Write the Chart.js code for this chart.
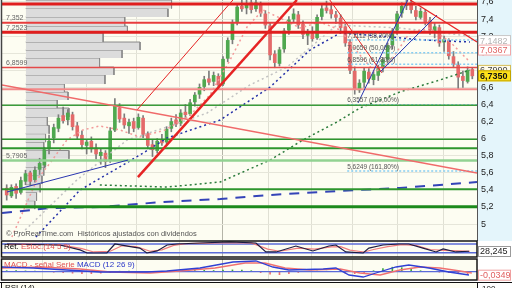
<!DOCTYPE html>
<html>
<head>
<meta charset="utf-8">
<script src="https://cdn.jsdelivr.net/npm/chart.js@4.4.0/dist/chart.umd.min.js"></script>
<style>
  html, body { margin: 0; padding: 0; background: #fff; }
  #wrap { position: relative; width: 512px; height: 288px; overflow: hidden; }
  .pane { position: absolute; left: 0; width: 512px; }
  #rsi { position: absolute; left: 0; top: 282px; width: 512px; height: 8px; border-top: 1.5px solid #111;
         font: 8px "Liberation Sans", Arial, sans-serif; color: #111; }
  #rsi .in { position: absolute; left: 1px; top: 0; width: 475px; height: 8px; background: #fdfdf2;
             border-left: 1.5px solid #111; border-right: 1.5px solid #111; }
  #rsi .lbl { position: absolute; left: 3px; top: 0px; }
  #rsi .r { position: absolute; left: 482px; top: 1px; }
</style>
</head>
<body>
<div id="wrap">
  <div class="pane" style="top:0;height:241px"><canvas id="main"></canvas></div>
  <div class="pane" style="top:240px;height:18px"><canvas id="stoch"></canvas></div>
  <div class="pane" style="top:258px;height:24px"><canvas id="macd"></canvas></div>
  <div id="rsi"><div class="in"><span class="lbl">RSI (14)</span></div><span class="r">100</span></div>
</div>
<script>
// sesiones (una vela por indice 0..99)
const opens = [5.42,5.33,5.44,5.37,5.50,5.60,5.52,5.64,5.69,5.88, 6.01,6.12,6.27,6.22,6.28,6.15,6.04,5.92,5.97,5.89,
  5.80,5.83,5.74,6.10,6.36,6.24,6.15,6.20,6.13,6.24, 6.06,5.93,5.86,5.98,5.96,6.12,6.22,6.18,6.31,6.29,
  6.43,6.52,6.61,6.70,6.67,6.73,6.64,6.94,7.16,7.37, 7.55,7.53,7.59,7.52,7.58,7.46,7.32,6.99,6.88,7.05,
  7.27,7.40,7.45,7.34,7.21,7.23,7.18,7.43,7.53,7.51, 7.45,7.41,7.31,7.13,6.79,6.57,6.66,6.78,6.69,6.74,
  6.83,6.93,7.10,7.27,7.47,7.56,7.59,7.50,7.42,7.48, 7.38,7.26,7.30,7.13,7.15,6.96,6.86,6.73,6.67,6.81];
const highs = [5.46,5.46,5.47,5.55,5.63,5.62,5.67,5.77,5.90,6.04, 6.17,6.28,6.37,6.34,6.31,6.19,6.09,5.99,6.02,5.94,
  5.88,5.86,6.13,6.47,6.41,6.29,6.23,6.24,6.29,6.27, 6.08,5.98,6.00,6.05,6.14,6.24,6.28,6.34,6.40,6.46,
  6.54,6.64,6.73,6.79,6.78,6.76,6.96,7.18,7.39,7.58, 7.63,7.62,7.63,7.63,7.60,7.50,7.36,7.03,7.07,7.29,
  7.43,7.52,7.49,7.38,7.28,7.31,7.45,7.57,7.61,7.56, 7.49,7.45,7.34,7.16,6.84,6.69,6.83,6.82,6.78,6.86,
  6.95,7.12,7.29,7.49,7.59,7.63,7.62,7.55,7.53,7.51, 7.42,7.36,7.33,7.20,7.17,7.02,6.90,6.79,6.84,6.83];
const lows = [5.28,5.31,5.30,5.35,5.46,5.45,5.49,5.58,5.66,5.82, 5.95,6.08,6.18,6.16,6.10,5.99,5.88,5.82,5.84,5.76,
  5.70,5.66,5.72,6.08,6.19,6.12,6.06,6.08,6.11,6.01, 5.88,5.79,5.83,5.92,5.94,6.08,6.14,6.15,6.24,6.27,
  6.38,6.47,6.56,6.63,6.62,6.58,6.62,6.90,7.11,7.33, 7.49,7.46,7.47,7.49,7.43,7.29,6.92,6.83,6.85,7.01,
  7.22,7.36,7.29,7.17,7.10,7.14,7.16,7.39,7.47,7.41, 7.35,7.26,7.08,6.76,6.52,6.54,6.60,6.65,6.63,6.68,
  6.78,6.88,7.05,7.22,7.42,7.51,7.47,7.39,7.40,7.33, 7.22,7.18,7.08,7.02,6.93,6.83,6.58,6.60,6.65,6.70];
const closes = [5.34,5.43,5.36,5.51,5.59,5.50,5.63,5.71,5.87,5.97, 6.13,6.24,6.21,6.30,6.14,6.03,5.93,5.96,5.88,5.82,
  5.84,5.73,6.09,6.38,6.23,6.16,6.19,6.12,6.25,6.05, 5.92,5.87,5.97,5.95,6.11,6.20,6.17,6.30,6.28,6.42,
  6.51,6.60,6.69,6.66,6.74,6.63,6.93,7.15,7.36,7.54, 7.52,7.58,7.51,7.59,7.47,7.33,6.98,6.89,7.04,7.26,
  7.39,7.46,7.33,7.22,7.24,7.17,7.42,7.52,7.50,7.46, 7.42,7.30,7.12,6.80,6.58,6.65,6.79,6.70,6.75,6.82,
  6.92,7.09,7.26,7.46,7.55,7.58,7.51,7.43,7.49,7.37, 7.27,7.31,7.12,7.16,6.97,6.87,6.72,6.68,6.80,6.735];

// ejes
const priceTicks = [5, 5.2, 5.4, 5.6, 5.8, 6, 6.2, 6.4, 6.6, 6.8, 7, 7.2, 7.4, 7.6];
const gridTicks = [7.7, 16.9, 27.7, 36.8, 45.8, 55.6, 64.9, 73.6, 83.0, 92.8];
const yearTick = 45.8;

// volumen por precio
const profileEdges = [7.623, 7.524, 7.424, 7.318, 7.237, 7.131, 7.037, 6.944, 6.838, 6.745, 6.639, 6.546, 6.452,
  6.358, 6.253, 6.155, 6.057, 5.959, 5.861, 5.763, 5.665, 5.567, 5.469, 5.371, 5.273, 5.175];
const profileVolume = [162, 158, 110, 113, 86, 127, 107, 82, 98, 88, 43, 47, 35, 48,
  24, 26, 22, 20, 48, 22, 20, 18, 16, 12, 10];

// soportes / resistencias
const supportLevels = [7.576, 7.357, 7.245, 6.833, 6.577, 6.390, 5.992, 5.888, 5.744, 5.406, 5.203];
const supportColors = ['#e01e1e', '#e83c3c', '#e01e1e', '#e44a4a', '#f28a8a', '#3c9c3c', '#2e962e', '#2e962e', '#92d292', '#2e962e', '#1c8a1c'];
const supportWidths = [3, 2, 3, 1.5, 2, 1.5, 1.5, 2, 2.5, 2, 3];
const levelLabels = ['7,352', '7,2523', '6,8599', '5,7905'];
const levelLabelValues = [7.357, 7.245, 6.833, 5.744];

// Fibonacci
const fibLevels = [7.155, 7.006, 6.870, 6.398, 5.621];
const fibLabels = ['7,1111 (38,20%)', '7,0659 (50,00%)', '6,8596 (61,80%)', '6,3557 (100,00%)', '5,6249 (161,80%)'];
const fibStart = 72.4;

// lineas de tendencia [x0, y0, x1, y1]
const redTrends = [[-1, 6.628, 100, 5.597], [27.9, 5.55, 61.7, 7.623], [27.7, 6.335, 48.1, 7.623],
  [68.7, 7.623, 79.8, 6.769], [85.8, 7.623, 100, 7.131]];
const redTrendWidths = [1.5, 2.5, 1, 1, 1.2];
const blueTrends = [[0.06, 5.375, 25.8, 5.749], [74.7, 6.417, 85.3, 7.623], [79.4, 6.78, 91.5, 7.447]];

// medias moviles [indice, valor]
const maPink = [[1.1,4.848],[6.4,5.515],[9.2,5.714],[12.8,5.984],[16.2,6.101],[19.8,6.148],[24.1,6.101],[28.3,6.019],
  [33.7,6.101],[39.0,6.276],[43.2,6.511],[47.5,6.920],[51.1,7.307],[54.5,7.506],[58.1,7.412],[62.4,7.295],
  [66.6,7.365],[70.9,7.272],[75.1,6.979],[78.3,6.780],[81.5,6.897],[85.8,7.248],[90.0,7.295],[94.3,7.131],[98.5,6.897]];
const maGray = [[2.4,4.848],[14.9,5.515],[25.6,5.984],[34.1,6.136],[42.6,6.300],[51.7,6.628],[59.6,6.838],
  [70.2,7.330],[83.6,7.295],[98.5,7.201]];
const maBlue = [[6.2,4.848],[15.6,5.398],[25.8,5.726],[29.0,5.831],[34.1,6.007],[45.4,6.218],[56.0,6.604],
  [64.5,7.037],[70.9,7.237],[79.4,7.201],[88.5,7.155],[98.5,7.131]];
const maGreen = [[19.8,5.457],[34.1,5.433],[45.4,5.492],[56.0,5.749],[63.0,5.984],[70.2,6.194],[75.1,6.358],
  [83.6,6.546],[92.1,6.686],[98.5,6.803]];
const maLong = [[-1,5.129],[9.2,5.187],[19.8,5.199],[33.2,5.258],[45.4,5.293],[56.0,5.340],[70.2,5.386],
  [83.6,5.422],[100,5.492]];

// etiquetas del eje de precios
const priceBoxes = ['7,1482', '7,0367', '6,7990', '6,7350'];
const priceBoxValues = [7.1482, 7.0367, 6.799, 6.735];

// estocastico
const stochLevels = [80, 20];
const stochK = [[0.06,80],[11.3,73],[15.6,39],[17.1,18],[21.3,18],[23,80],[26.9,59],[28.3,52],[29.8,18],[32,32],
  [34.1,73],[36.2,80],[41.1,87],[47.5,94],[53,87],[55.1,25],[57.3,25],[61.5,66],[65.1,32],[68.5,66],[70,73],
  [72.1,25],[75.8,18],[77,52],[80,73],[83.4,80],[85.5,80],[88.5,52],[91.3,25],[92.8,46],[95.5,25],[98.3,30]];
const stochD = [[0,76],[5,80],[12,70],[16,48],[18.5,25],[22,30],[24.5,68],[27.5,62],[30.5,30],[33,40],[35.5,70],
  [38,82],[45,88],[52,88],[55.5,45],[58,30],[62,52],[65.5,45],[69,60],[71,62],[73,38],[76,25],[78,42],[81,62],
  [84,76],[87,70],[90,42],[93,36],[96,32],[98.5,30]];

// MACD
const macdLine = [[-1,0.047],[5.6,0.037],[12.8,0.017],[19.8,-0.003],[29.8,-0.003],[34.1,0.007],[41.1,0.037],
  [48.1,0.097],[53,0.107],[56.6,0.047],[60,0.017],[67.3,0.027],[70,0.037],[72.8,-0.033],[75.8,-0.053],
  [78.5,-0.013],[82.8,0.047],[85.5,0.067],[89.8,0.037],[94,-0.003],[98.3,-0.033]];
const signalLine = [[-1,0.037],[7.1,0.047],[15.6,0.027],[22,-0.003],[30.5,-0.013],[36.8,0.007],[44.3,0.037],
  [50.7,0.087],[54.9,0.087],[59.2,0.037],[64.5,0.017],[70.9,0.027],[75.1,-0.013],[79.4,-0.033],[83.6,0.017],
  [87.9,0.047],[92.1,0.037],[96.4,0.007],[98.9,-0.013]];
const macdHist = [[0,0.010],[2,0.010],[4,0.008],[6,0.005],[8,0.0],[10,-0.005],[12,-0.010],[14,-0.015],[16,-0.020],
  [18,-0.020],[20,-0.015],[22,-0.010],[24,0.005],[26,0.005],[28,0.004],[30,0.003],[32,0.004],[34,0.006],[36,0.008],
  [38,0.010],[40,0.012],[42,0.014],[44,0.012],[46,0.015],[48,0.018],[50,0.015],[52,0.010],[54,-0.010],[56,-0.025],
  [58,-0.030],[60,-0.020],[62,-0.008],[64,0.004],[66,0.006],[68,0.005],[70,0.002],[72,-0.015],[74,-0.020],
  [76,-0.015],[78,0.010],[80,0.030],[82,0.045],[84,0.040],[86,0.025],[88,0.010],[90,0.003],[92,-0.005],
  [94,-0.010],[96,-0.015],[98,-0.020]];

Chart.defaults.font.family = '"Liberation Sans", Arial, sans-serif';
Chart.defaults.animation = false;

const plotBg = '#fdfdf2';
const fmt = v => (Number.isInteger(v) ? String(v) : v.toFixed(1)).replace('.', ',');

function lineDs(points, color, width, dash, order) {
  return {
    type: 'line', data: points.map(p => ({ x: p[0], y: p[1] })),
    borderColor: color, borderWidth: width, borderDash: dash || [],
    pointRadius: 0, fill: false, tension: 0, order: order || 0
  };
}

function timeAxis() {
  return {
    type: 'linear', min: -1, max: 100, offset: false,
    afterBuildTicks: s => { s.ticks = gridTicks.map(v => ({ value: v })); },
    ticks: { display: false },
    grid: { offset: false, drawTicks: false, lineWidth: 1,
      color: c => (c.tick && c.tick.value === yearTick ? '#b4b4a8' : '#e0e0d4') },
    border: { display: false }
  };
}

// ---------- grafico principal ----------
const candleIdx = closes.map((c, i) => i);
const mainSets = [];

trendSets();
function trendSets() {
  redTrends.forEach((t, k) => mainSets.push(lineDs([[t[0], t[1]], [t[2], t[3]]], k === 0 ? '#f06a6a' : '#e62424', redTrendWidths[k], [], 1)));
  blueTrends.forEach(t => mainSets.push(lineDs([[t[0], t[1]], [t[2], t[3]]], '#2a36b0', 1, [], 1)));
}
supportLevels.forEach((v, k) => mainSets.push(lineDs([[-1, v], [100, v]], supportColors[k], supportWidths[k], [], 2)));
fibLevels.forEach(v => mainSets.push(lineDs([[fibStart, v], [100, v]], '#86cdf2', 1.5, [2, 2], 3)));
mainSets.push(lineDs(maBlue, '#2430a8', 1.5, [2, 3], 4));
mainSets.push(lineDs(maPink, '#f29a9a', 1.5, [2, 3], 4));
mainSets.push(lineDs(maGray, '#c2c2c2', 1.5, [2, 3], 4));
mainSets.push(lineDs(maGreen, '#2c7c3c', 1.5, [2, 3], 4));
mainSets.push(lineDs(maLong, '#3444b8', 2, [10, 8], 4));

mainSets.push({
  type: 'bar', order: 5, grouped: false, barThickness: 3,
  data: candleIdx.map(i => ({ x: i, y: [opens[i], closes[i]] })),
  backgroundColor: candleIdx.map(i => (closes[i] >= opens[i] ? '#4fa84f' : '#e46a6a'))
});
mainSets.push({
  type: 'bar', order: 6, grouped: false, barThickness: 1,
  data: candleIdx.map(i => ({ x: i, y: [lows[i], highs[i]] })),
  backgroundColor: '#7c7c7c'
});

profileVolume.forEach((vol, k) => {
  mainSets.push({
    type: 'line', xAxisID: 'xv', order: 20,
    data: [{ x: 0, y: profileEdges[k] }, { x: vol, y: profileEdges[k] }, { x: vol, y: profileEdges[k + 1] }],
    borderColor: '#8a8a8a', borderWidth: 1, backgroundColor: '#dcdcdc',
    fill: { value: profileEdges[k + 1] }, pointRadius: 0, tension: 0
  });
});

const mainDeco = {
  id: 'mainDeco',
  beforeDraw(chart) {
    const { ctx, chartArea: a, width, height } = chart;
    ctx.save();
    ctx.fillStyle = '#e4f5fb';
    ctx.fillRect(a.right, 0, width - a.right, height);
    ctx.fillStyle = plotBg;
    ctx.fillRect(a.left, a.top, a.right - a.left, a.bottom - a.top);
    ctx.restore();
  },
  afterDraw(chart) {
    const { ctx, chartArea: a, width, scales } = chart;
    const x = scales.x, y = scales.y;
    ctx.save();
    ctx.strokeStyle = '#444';
    ctx.lineWidth = 1.5;
    ctx.beginPath();
    ctx.moveTo(a.left - 0.5, a.top); ctx.lineTo(a.left - 0.5, a.bottom);
    ctx.stroke();

    ctx.font = '7px "Liberation Sans", Arial, sans-serif';
    ctx.textBaseline = 'bottom';
    ctx.fillStyle = '#666';
    levelLabels.forEach((t, k) => ctx.fillText(t, a.left + 4, y.getPixelForValue(levelLabelValues[k]) - 1));

    ctx.font = '6.5px "Liberation Sans", Arial, sans-serif';
    ctx.fillStyle = '#555';
    fibLabels.forEach((t, k) => ctx.fillText(t, x.getPixelForValue(fibStart), y.getPixelForValue(fibLevels[k]) - 1));

    const boxStyle = [
      { bg: '#ffffff', border: '#c8c8c8', text: '#b4b4b4', bold: false },
      { bg: '#ffffff', border: '#f0a8a8', text: '#e06666', bold: false },
      { bg: '#fffbea', border: '#d4bc58', text: '#444', bold: false },
      { bg: '#ffe21a', border: '#c4a400', text: '#111', bold: true }
    ];
    ctx.textBaseline = 'middle';
    priceBoxes.forEach((t, k) => {
      const s = boxStyle[k];
      const py = y.getPixelForValue(priceBoxValues[k]);
      ctx.fillStyle = s.bg;
      ctx.fillRect(a.right + 1, py - 5.5, width - a.right - 2, 11);
      ctx.strokeStyle = s.border;
      ctx.lineWidth = 1;
      ctx.strokeRect(a.right + 1.5, py - 5, width - a.right - 3, 10);
      ctx.fillStyle = s.text;
      ctx.font = (s.bold ? 'bold ' : '') + '9px "Liberation Sans", Arial, sans-serif';
      ctx.fillText(t, a.right + 3, py + 0.5);
    });

    ctx.font = '7.5px "Liberation Sans", Arial, sans-serif';
    ctx.fillStyle = '#555';
    ctx.fillText('\u00a9 ProRealTime.com  Hist\u00f3ricos ajustados con dividendos', a.left + 4, 234);
    ctx.restore();
  }
};

new Chart(document.getElementById('main'), {
  type: 'bar',
  data: { datasets: mainSets },
  options: {
    responsive: true, maintainAspectRatio: false, events: [],
    layout: { padding: { left: 2, top: 0, right: 0, bottom: 1 } },
    plugins: { legend: { display: false }, tooltip: { enabled: false } },
    elements: { point: { radius: 0 } },
    scales: {
      x: timeAxis(),
      xv: { type: 'linear', axis: 'x', display: false, min: 0, max: 475 },
      y: {
        position: 'right', min: 4.813, max: 7.623,
        afterBuildTicks: s => { s.ticks = priceTicks.map(v => ({ value: v })); },
        afterFit: s => { s.width = 35; s.paddingTop = 0; s.paddingBottom = 0; },
        ticks: { autoSkip: false, padding: 4, color: '#222', font: { size: 9 }, callback: v => fmt(v) },
        grid: { drawTicks: false, color: '#e6e6da' },
        border: { display: true, color: '#555', width: 1 }
      }
    }
  },
  plugins: [mainDeco]
});

// ---------- paneles inferiores ----------
function panelDeco(titles, boxText, boxValue, textColor, borderColor) {
  return {
    id: 'panelDeco',
    beforeDraw(chart) {
      const { ctx, chartArea: a } = chart;
      ctx.save();
      ctx.fillStyle = plotBg;
      ctx.fillRect(a.left, a.top, a.right - a.left, a.bottom - a.top);
      ctx.restore();
    },
    afterDraw(chart) {
      const { ctx, chartArea: a, width } = chart;
      ctx.save();
      ctx.strokeStyle = '#151515';
      ctx.lineWidth = 1.5;
      ctx.strokeRect(a.left - 0.5, a.top, a.right - a.left + 0.5, a.bottom - a.top);
      ctx.font = '8px "Liberation Sans", Arial, sans-serif';
      ctx.textBaseline = 'top';
      let tx = a.left + 2;
      titles.forEach(([t, c]) => { ctx.fillStyle = c; ctx.fillText(t, tx, a.top + 1.5); tx += ctx.measureText(t).width; });
      const py = chart.scales.y.getPixelForValue(boxValue);
      ctx.fillStyle = '#fff';
      ctx.fillRect(a.right + 1.5, py - 5, width - a.right - 3, 10);
      ctx.strokeStyle = borderColor;
      ctx.lineWidth = 1;
      ctx.strokeRect(a.right + 1.5, py - 5, width - a.right - 3, 10);
      ctx.fillStyle = textColor;
      ctx.font = '9px "Liberation Sans", Arial, sans-serif';
      ctx.textBaseline = 'middle';
      ctx.fillText(boxText, a.right + 3, py + 0.5);
      ctx.restore();
    }
  };
}

function panelOptions(yMin, yMax, padTop, padBottom) {
  return {
    responsive: true, maintainAspectRatio: false, events: [],
    layout: { padding: { left: 2, right: 35, top: padTop, bottom: padBottom } },
    plugins: { legend: { display: false }, tooltip: { enabled: false } },
    elements: { point: { radius: 0 } },
    scales: { x: timeAxis(), y: { display: false, min: yMin, max: yMax } }
  };
}

new Chart(document.getElementById('stoch'), {
  type: 'line',
  data: {
    datasets: [
      lineDs(stochK, '#1c1c42', 1.2),
      lineDs(stochD, '#f07c7c', 1.2),
      ...stochLevels.map(v => lineDs([[-1, v], [100, v]], '#5a6ad8', 1.5))
    ]
  },
  options: panelOptions(-9.7, 100.7, 1, 1),
  plugins: [panelDeco([['Ret.', '#000'], [' Estoc.(14 5 3)', '#e05050']], '28,245', 28.245, '#222', '#9a9a9a')]
});

new Chart(document.getElementById('macd'), {
  type: 'line',
  data: {
    datasets: [
      lineDs(macdLine, '#3040d4', 1.3),
      lineDs(signalLine, '#f07070', 1.3),
      lineDs([[-1, 0], [100, 0]], '#5a6ad8', 1.2),
      {
        type: 'bar', barThickness: 1, grouped: false,
        data: macdHist.map(p => ({ x: p[0], y: p[1] })),
        backgroundColor: macdHist.map(p => (p[1] >= 0 ? '#3fa83f' : '#f07070'))
      }
    ]
  },
  options: panelOptions(-0.083, 0.127, 1, 2),
  plugins: [panelDeco([['MACD - se\u00f1al Serie ', '#e05050'], ['MACD (12 26 9)', '#2a36c8']], '-0,0349', -0.0349, '#e06060', '#f0a0a0')]
});
</script>
</body>
</html>
